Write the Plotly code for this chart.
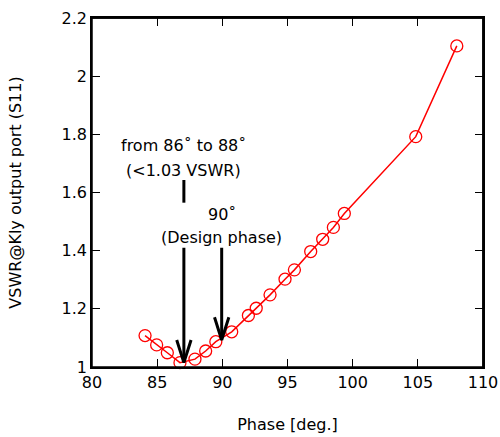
import plotly.graph_objects as go

phase = [84.07, 84.96, 85.78, 86.75, 87.9, 88.72, 89.5, 90.72, 92.0, 92.6, 93.66,
         94.81, 95.53, 96.78, 97.7, 98.52, 99.36, 104.84, 107.99]
vswr = [1.108, 1.076, 1.049, 1.015, 1.027, 1.055, 1.087, 1.121, 1.177, 1.202, 1.248,
        1.302, 1.334, 1.397, 1.439, 1.480, 1.528, 1.792, 2.104]

x_range = [80, 110]
y_range = [1, 2.2]
x_ticks = [80, 85, 90, 95, 100, 105, 110]
y_ticks = [1, 1.2, 1.4, 1.6, 1.8, 2, 2.2]
y_ticktext = ["1", "1.2", "1.4", "1.6", "1.8", "2", "2.2"]

# arrows: x, tail y, tip y
arrow_x = [87.05, 89.95]
arrow_tail = [1.41, 1.41]
arrow_tip = [1.015, 1.093]
head_dx = 0.55
head_dy = 0.078

bar_x = [87.05]
bar_y0 = [1.565]
bar_y1 = [1.643]

FONT = "DejaVu Sans"

fig = go.Figure()
fig.add_trace(go.Scatter(
    x=phase, y=vswr, mode="lines+markers",
    line=dict(color="#ff0000", width=1.5),
    marker=dict(symbol="circle-open", size=12, color="#ff0000", line=dict(width=1.3)),
    showlegend=False, hoverinfo="skip", cliponaxis=False))

# invisible trace to carry the mirrored top/right axes
fig.add_trace(go.Scatter(x=phase, y=vswr, xaxis="x2", yaxis="y2", mode="markers",
                         marker=dict(opacity=0), showlegend=False, hoverinfo="skip"))

# right and top frame edges drawn as data lines at the axis limits
fig.add_trace(go.Scatter(x=[x_range[1], x_range[1]], y=y_range, mode="lines",
                         line=dict(color="black", width=1.5), cliponaxis=False,
                         showlegend=False, hoverinfo="skip"))
fig.add_trace(go.Scatter(x=x_range, y=[y_range[1], y_range[1]], mode="lines",
                         line=dict(color="black", width=1.5), cliponaxis=False,
                         showlegend=False, hoverinfo="skip"))

for xa, yt, yh in zip(arrow_x, arrow_tail, arrow_tip):
    fig.add_trace(go.Scatter(x=[xa, xa], y=[yt, yh + 0.01], mode="lines",
                             line=dict(color="black", width=3), showlegend=False, hoverinfo="skip"))
    fig.add_trace(go.Scatter(x=[xa - head_dx, xa, xa + head_dx],
                             y=[yh + head_dy, yh, yh + head_dy], mode="lines",
                             line=dict(color="black", width=3), showlegend=False, hoverinfo="skip"))

for xb, y0, y1 in zip(bar_x, bar_y0, bar_y1):
    fig.add_trace(go.Scatter(x=[xb, xb], y=[y0, y1], mode="lines",
                             line=dict(color="black", width=3), showlegend=False, hoverinfo="skip"))

annots = [
    ("from 86˚ to 88˚", 87.05, 1.763),
    ("(<1.03 VSWR)", 87.05, 1.677),
    ("90˚", 89.95, 1.523),
    ("(Design phase)", 89.95, 1.444),
]
for txt, ax_, ay_ in annots:
    fig.add_annotation(x=ax_, y=ay_, text=txt, showarrow=False,
                       font=dict(family=FONT, size=16, color="black"),
                       xanchor="center", yanchor="middle")

# frame around the plotting area
fig.add_shape(type="rect", xref="paper", yref="paper", x0=0, y0=0, x1=1, y1=1,
              line=dict(color="black", width=1.5), layer="above")

axis_common = dict(showgrid=False, zeroline=False, showline=True, linecolor="black",
                   linewidth=1.5, mirror=True, ticks="inside", ticklen=8,
                   tickcolor="black", tickwidth=1.2, automargin=False,
                   tickfont=dict(family=FONT, size=16, color="black"))
fig.update_layout(
    xaxis=dict(range=x_range, tickvals=x_ticks,
               title=dict(text="Phase [deg.]", font=dict(family=FONT, size=16, color="black"),
                          standoff=28), **axis_common),
    yaxis=dict(range=y_range, tickvals=y_ticks, ticktext=y_ticktext,
               title=dict(text="VSWR@Kly output port (S11)",
                          font=dict(family=FONT, size=16, color="black"), standoff=36),
               **axis_common),
    xaxis2=dict(range=x_range, tickvals=x_ticks, overlaying="x", side="top",
                showticklabels=False, showgrid=False, zeroline=False, showline=True,
                linecolor="black", linewidth=1.5, ticks="inside", ticklen=8,
                tickcolor="black", tickwidth=1.2, automargin=False),
    yaxis2=dict(range=y_range, tickvals=y_ticks, overlaying="y", side="right",
                showticklabels=False, showgrid=False, zeroline=False, showline=True,
                linecolor="black", linewidth=1.5, ticks="inside", ticklen=8,
                tickcolor="black", tickwidth=1.2, automargin=False),
    width=500, height=437, margin=dict(l=92, r=17, t=18, b=70),
    plot_bgcolor="white", paper_bgcolor="white")
fig.write_html("out.html", config=dict(displayModeBar=False),
               post_script="document.body.style.margin='0';document.body.style.overflow='hidden';")
